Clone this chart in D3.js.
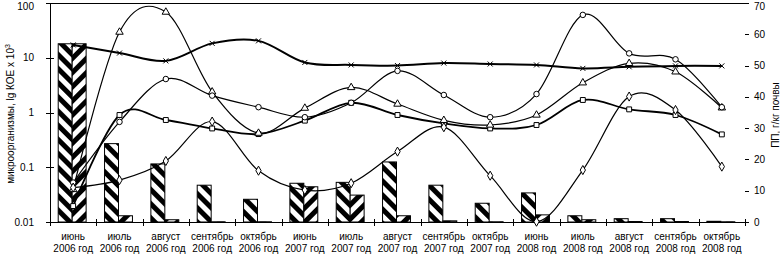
<!DOCTYPE html>
<html>
<head>
<meta charset="utf-8">
<script src="https://cdn.jsdelivr.net/npm/d3@7"></script>
<style>
  body { margin: 0; background: #fff; }
  text { font-family: "Liberation Sans", Arial, sans-serif; font-size: 10px; fill: #000; }
</style>
</head>
<body>
<div id="chart"></div>
<script>
// категории (месяц + год)
const months = ["июнь", "июль", "август", "сентябрь", "октябрь",
                "июнь", "июль", "август", "сентябрь", "октябрь",
                "июнь", "июль", "август", "сентябрь", "октябрь"];
const years = ["2006 год", "2006 год", "2006 год", "2006 год", "2006 год",
               "2007 год", "2007 год", "2007 год", "2007 год", "2007 год",
               "2008 год", "2008 год", "2008 год", "2008 год", "2008 год"];
const categories = months.map((m, i) => m + " " + years[i]);

// столбцы, левая ось (log)
const barsA = [18, 0.27, 0.115, 0.047, 0.026, 0.051, 0.053, 0.125, 0.047, 0.022, 0.034, 0.013, 0.0115, 0.0115, 0.0103];
const barsB = [18, 0.013, 0.011, 0.0101, 0.0101, 0.044, 0.031, 0.013, 0.0105, 0.0101, 0.0135, 0.011, 0.0102, 0.0102, 0.0101];

// линии, правая ось (г/кг почвы)
const lineCross    = [56.6, 54.0, 51.5, 57.1, 57.9, 51.0, 50.2, 50.0, 50.8, 50.5, 50.2, 49.1, 49.6, 49.9, 49.9];
const lineTriangle = [10.4, 60.7, 67.1, 41.6, 28.4, 36.4, 43.0, 37.7, 32.5, 31.0, 34.2, 44.5, 50.7, 48.0, 36.5];
const lineCircle   = [12.6, 32.0, 45.7, 40.4, 36.7, 33.5, 38.1, 48.3, 40.6, 33.5, 40.9, 66.2, 53.9, 52.0, 36.7];
const lineSquare   = [5.1, 34.2, 32.6, 29.9, 28.1, 32.4, 38.1, 34.2, 31.5, 29.9, 31.0, 39.0, 36.0, 34.2, 28.0];
const lineDiamond  = [11.0, 13.4, 19.5, 32.1, 16.4, 10.2, 12.4, 22.5, 30.3, 14.8, 0.1, 16.6, 40.1, 35.8, 17.7];

const leftTicks = [0.01, 0.1, 1, 10, 100];
const leftTickLabels = ["0.01", "0.1", "1", "10", "100"];
const rightTicks = [0, 10, 20, 30, 40, 50, 60, 70];

const width = 780, height = 254;
const plotL = 50, plotR = 745, plotT = 3, plotB = 222;

const svg = d3.select("#chart").append("svg")
    .attr("width", width)
    .attr("height", height);

// штриховки
const defs = svg.append("defs");
[["hatchA", -45], ["hatchB", 45]].forEach(([id, a]) => {
    const p = defs.append("pattern")
        .attr("id", id)
        .attr("patternUnits", "userSpaceOnUse")
        .attr("width", 10).attr("height", 10)
        .attr("patternTransform", `rotate(${a})`);
    p.append("rect").attr("width", 10).attr("height", 10).attr("fill", "#fff");
    p.append("rect").attr("width", 5).attr("height", 10).attr("fill", "#000");
});
defs.append("clipPath").attr("id", "plotClip")
    .append("rect").attr("x", plotL).attr("y", 0).attr("width", plotR - plotL).attr("height", plotB);

// шкалы
const x = d3.scaleBand().domain(categories).range([plotL, plotR]).padding(0);
const xSub = d3.scaleBand().domain(["A", "B"]).range([0, x.bandwidth()]).paddingInner(0).paddingOuter(0.66);
const yLog = d3.scaleLog().domain([0.01, 100]).range([plotB, plotT]);
const yRight = d3.scaleLinear().domain([0, 70]).range([plotB, plotT]);

// столбцы
const barData = [];
categories.forEach((c, i) => {
    barData.push({ cat: c, s: "A", v: barsA[i] });
    barData.push({ cat: c, s: "B", v: barsB[i] });
});
svg.append("g").selectAll("rect")
    .data(barData)
    .enter().append("rect")
    .attr("x", d => x(d.cat) + xSub(d.s) - 1)
    .attr("y", d => yLog(d.v))
    .attr("width", xSub.bandwidth())
    .attr("height", d => plotB - yLog(d.v))
    .attr("fill", d => d.s === "A" ? "url(#hatchA)" : "url(#hatchB)")
    .attr("stroke", "#000")
    .attr("stroke-width", 1);

// рамка и оси
const axes = svg.append("g").attr("stroke", "#000").attr("stroke-width", 1).attr("shape-rendering", "crispEdges");
axes.append("line").attr("x1", plotL).attr("x2", plotR).attr("y1", plotT + 0.5).attr("y2", plotT + 0.5);
axes.append("line").attr("x1", plotL + 0.5).attr("x2", plotL + 0.5).attr("y1", plotT).attr("y2", plotB);
axes.append("line").attr("x1", plotL).attr("x2", plotR).attr("y1", plotB + 0.5).attr("y2", plotB + 0.5);

// деления левой оси
axes.selectAll(".lt").data(leftTicks).enter().append("line")
    .attr("x1", plotL - 4).attr("x2", plotL + 4)
    .attr("y1", d => Math.round(yLog(d)) + 0.5).attr("y2", d => Math.round(yLog(d)) + 0.5);
svg.append("g").selectAll("text").data(leftTicks).enter().append("text")
    .attr("x", plotL - 16)
    .attr("y", d => Math.max(yLog(d), 6))
    .attr("dy", "0.35em")
    .attr("text-anchor", "end")
    .text((d, i) => leftTickLabels[i]);

// деления правой оси
axes.selectAll(".rt").data(rightTicks).enter().append("line")
    .attr("x1", plotR).attr("x2", plotR + 4)
    .attr("y1", d => Math.round(yRight(d)) + 0.5).attr("y2", d => Math.round(yRight(d)) + 0.5);
svg.append("g").selectAll("text").data(rightTicks).enter().append("text")
    .attr("x", plotR + 9)
    .attr("y", d => Math.max(yRight(d), 6))
    .attr("dy", "0.35em")
    .text(d => d);

// деления оси категорий (на границах)
const bounds = categories.map(c => x(c)).concat([plotR]);
axes.selectAll(".ct").data(bounds).enter().append("line")
    .attr("x1", d => Math.round(d) + 0.5).attr("x2", d => Math.round(d) + 0.5)
    .attr("y1", plotB - 3).attr("y2", plotB + 4);

// подписи категорий
const catLabels = svg.append("g").selectAll("text").data(categories).enter().append("text")
    .attr("x", d => x(d) + x.bandwidth() / 2)
    .attr("text-anchor", "middle");
catLabels.append("tspan").attr("y", 240).text((d, i) => months[i]);
catLabels.append("tspan").attr("x", d => x(d) + x.bandwidth() / 2).attr("y", 252).text((d, i) => years[i]);

// заголовки осей
const lt = svg.append("text")
    .attr("transform", "translate(10,114) rotate(-90)")
    .attr("text-anchor", "middle")
    .attr("dy", "0.35em");
lt.append("tspan").text("микроорганизмы, lg КОЕ х 10");
lt.append("tspan").attr("dy", "-4").style("font-size", "7px").text("3");

svg.append("text")
    .attr("transform", "translate(775,115) rotate(-90)")
    .attr("text-anchor", "middle")
    .attr("dy", "0.35em")
    .text("ПП, г/кг почвы");

// линии
const series = [
    { name: "cross", values: lineCross, w: 2 },
    { name: "square", values: lineSquare, w: 1.8 },
    { name: "triangle", values: lineTriangle, w: 1.2 },
    { name: "circle", values: lineCircle, w: 1.2 },
    { name: "diamond", values: lineDiamond, w: 1.2 }
];
const cx = i => x(categories[i]) + x.bandwidth() / 2;
const line = d3.line()
    .x((d, i) => cx(i))
    .y(d => yRight(d))
    .curve(d3.curveCatmullRom.alpha(0));

const lg = svg.append("g").attr("clip-path", "url(#plotClip)");
series.forEach(s => {
    lg.append("path")
        .attr("d", line(s.values))
        .attr("fill", "none")
        .attr("stroke", "#000")
        .attr("stroke-width", s.w);
});

// маркеры
const symbolType = {
    square: d3.symbolSquare,
    triangle: d3.symbolTriangle,
    circle: d3.symbolCircle,
    diamond: d3.symbolDiamond
};
series.forEach(s => {
    const g = svg.append("g");
    s.values.forEach((v, i) => {
        const px = cx(i), py = yRight(v);
        if (s.name === "cross") {
            g.append("path")
                .attr("d", `M${px - 2.5},${py - 2.5}L${px + 2.5},${py + 2.5}M${px - 2.5},${py + 2.5}L${px + 2.5},${py - 2.5}`)
                .attr("stroke", "#000").attr("stroke-width", 1).attr("fill", "none");
        } else {
            g.append("path")
                .attr("transform", `translate(${px},${py})`)
                .attr("d", d3.symbol().type(symbolType[s.name]).size(24)())
                .attr("fill", "#fff")
                .attr("stroke", "#000")
                .attr("stroke-width", 1);
        }
    });
});
</script>
</body>
</html>
